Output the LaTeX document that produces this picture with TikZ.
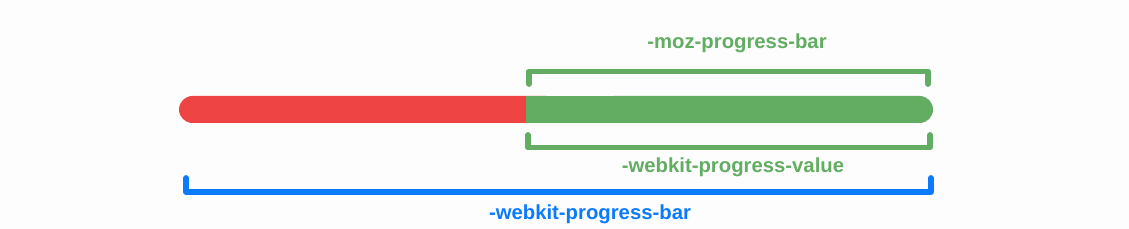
\documentclass[tikz,border=0pt]{standalone}
\usepackage{fontspec}
\setmainfont{Liberation Sans}
\definecolor{barred}{RGB}{239,68,68}
\definecolor{bargreen}{RGB}{98,173,98}
\definecolor{barblue}{RGB}{10,122,255}
\definecolor{bgcol}{RGB}{253,253,253}
\begin{document}
\begin{tikzpicture}[
  x=1pt, y=-1pt,
  brace/.style={line width=5.8pt, line cap=round, line join=round},
  lbl/.style={font=\fontsize{20.3}{24}\selectfont\bfseries, inner sep=0pt}
]
  \fill[bgcol] (0,0) rectangle (1129,229);
  \useasboundingbox (0,0) rectangle (1129,229);

  % progress bar
  \fill[barred, rounded corners=13.5pt] (179,96) rectangle (560,123);
  \fill[bargreen] (526,96) rectangle (700,123);
  \fill[bargreen, rounded corners=13.5pt] (600,96) rectangle (933,123);

  % bracket corners
  \coordinate (mozL) at (529,84);
  \coordinate (mozR) at (928,84);
  \coordinate (valL) at (528,135);
  \coordinate (valR) at (930,135);
  \coordinate (barL) at (186,178);
  \coordinate (barR) at (931,178);

  \draw[brace, bargreen] (mozL) -- ++(0,-12.5) -| (mozR);
  \draw[brace, bargreen] (valL) -- ++(0,12.5) -| (valR);
  \draw[brace, barblue] (barL) -- ++(0,14) -| (barR);

  \node[lbl, text=bargreen] (moz) at (737,43) {-moz-progress-bar};
  \node[lbl, text=bargreen] (val) at (733,167) {-webkit-progress-value};
  \node[lbl, text=barblue] (bar) at (590,214) {-webkit-progress-bar};
\end{tikzpicture}
\end{document}
